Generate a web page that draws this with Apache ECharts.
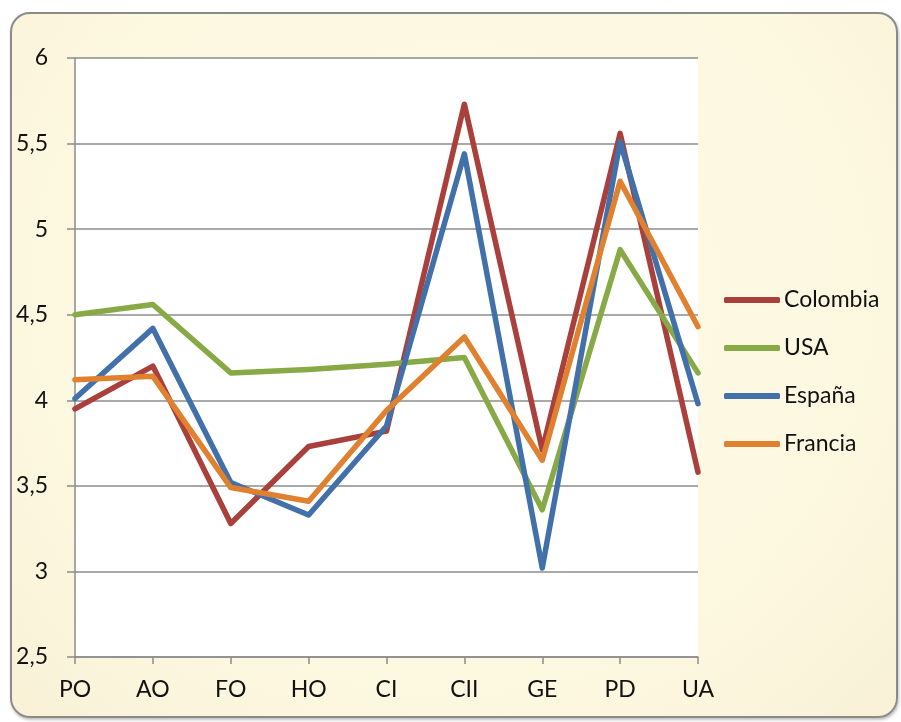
<!DOCTYPE html>
<html>
<head>
<meta charset="utf-8">
<script src="https://cdn.jsdelivr.net/npm/echarts@6/dist/echarts.min.js"></script>
<style>
  html, body { margin: 0; padding: 0; background: #ffffff; }
  #frame {
    position: absolute; left: 10px; top: 12px; width: 884px; height: 702px;
    border: 2px solid #8a8a8a; border-radius: 20px;
    background: radial-gradient(ellipse at 50% 40%, #fefbe8 0%, #fcf7df 70%, #f8f1d6 100%);
    box-shadow: 1px 2px 3px rgba(0,0,0,0.25);
  }
  #chart { position: absolute; left: 0; top: 0; width: 901px; height: 722px; }
</style>
</head>
<body>
<div id="frame"></div>
<div id="chart"></div>
<script>
// Dimensions along the horizontal axis
const categories = ['PO', 'AO', 'FO', 'HO', 'CI', 'CII', 'GE', 'PD', 'UA'];

// Scores per country
const colombia = [3.95, 4.20, 3.28, 3.73, 3.82, 5.73, 3.71, 5.56, 3.58];
const usa      = [4.50, 4.56, 4.16, 4.18, 4.21, 4.25, 3.36, 4.88, 4.16];
const espana   = [4.01, 4.42, 3.52, 3.33, 3.85, 5.44, 3.02, 5.51, 3.98];
const francia  = [4.12, 4.14, 3.49, 3.41, 3.94, 4.37, 3.65, 5.28, 4.43];

const seriesNames = ['Colombia', 'USA', 'España', 'Francia'];
const seriesData = [colombia, usa, espana, francia];
const colors = ['#a9403c', '#88aa46', '#4170aa', '#e0812f'];

const font = 'Lato, "Open Sans", sans-serif';

const chart = echarts.init(document.getElementById('chart'), null, { renderer: 'canvas' });
chart.setOption({
  backgroundColor: 'transparent',
  animation: false,
  color: colors,
  grid: {
    left: 75, right: 203, top: 58, bottom: 65,
    show: true, backgroundColor: '#ffffff', borderWidth: 0
  },
  legend: {
    orient: 'vertical',
    left: 719, top: 282,
    itemWidth: 56, itemHeight: 6, itemGap: 22,
    icon: 'roundRect',
    textStyle: { fontFamily: font, fontSize: 23, lineHeight: 26, color: '#111', padding: [0, 0, 0, -1] },
    data: seriesNames
  },
  xAxis: {
    type: 'category',
    data: categories,
    boundaryGap: false,
    axisLine: { lineStyle: { color: '#8c8c8c', width: 1.5 } },
    axisTick: { show: true, length: 7, lineStyle: { color: '#8c8c8c', width: 1.5 } },
    axisLabel: { fontFamily: font, fontSize: 23, color: '#111', margin: 21 },
    splitLine: { show: false }
  },
  yAxis: {
    type: 'value',
    min: 2.5, max: 6, interval: 0.5,
    axisLine: { show: true, lineStyle: { color: '#8c8c8c', width: 1.5 } },
    axisTick: { show: true, length: 8, lineStyle: { color: '#8c8c8c', width: 1.5 } },
    axisLabel: {
      fontFamily: font, fontSize: 23, color: '#111', margin: 27,
      formatter: v => String(v).replace('.', ',')
    },
    splitLine: { show: true, lineStyle: { color: '#8c8c8c', width: 1.5 } }
  },
  series: seriesNames.map((name, i) => ({
    name,
    type: 'line',
    data: seriesData[i],
    symbol: 'none',
    clip: true,
    lineStyle: { width: 5.5, color: colors[i], cap: 'round', join: 'round' },
    itemStyle: { color: colors[i] }
  }))
});
</script>
</body>
</html>
